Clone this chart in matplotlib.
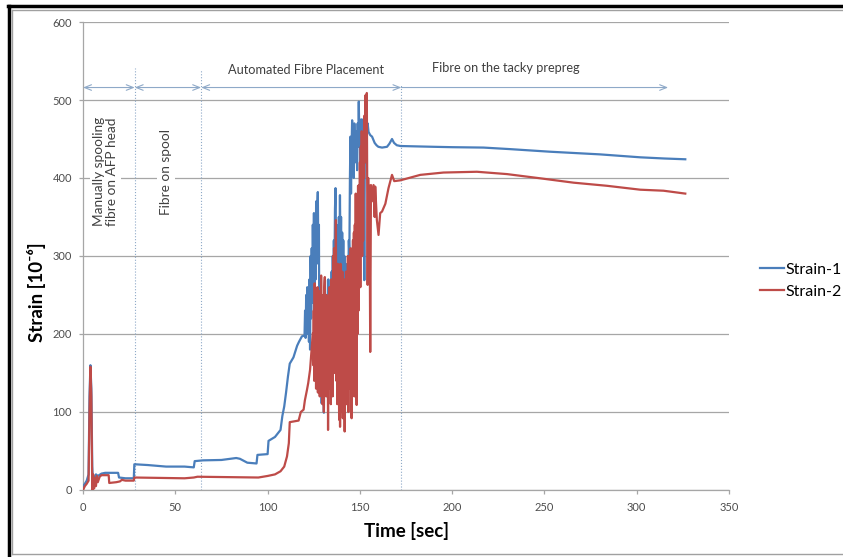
import matplotlib
matplotlib.use("Agg")
import matplotlib.pyplot as plt
from matplotlib.lines import Line2D

plt.rcParams['font.family'] = ['Lato', 'DejaVu Sans']

# Strain-1 (blue)
time1 = [0, 1, 2, 3, 3.5, 4, 4.5, 5, 5.5, 6, 7, 8, 10, 12, 15, 19, 19.5, 23, 27.5, 27.8,
         35, 45, 55, 60, 60.5, 65, 75, 83, 85, 89, 94, 94.5, 100, 100.5, 104, 107, 108,
         109, 110, 111, 112, 114, 116, 117, 118.6,
         120, 120.3, 120.6, 120.9, 121.2, 121.5, 121.8, 122.1, 122.4, 122.7, 123, 123.3,
         123.6, 123.9, 124.2, 124.5, 124.8, 125.1, 125.4, 125.7, 126, 126.3, 126.6, 126.9,
         127.2, 127.5, 127.8, 128.1, 128.4, 128.7, 129, 129.3, 129.6, 129.9, 130.2, 130.5,
         130.8, 131.1, 131.4, 131.7, 132, 132.3, 132.6, 132.9, 133.2, 133.5, 133.8, 134.1,
         134.4, 134.7, 135, 135.3, 135.6, 135.9, 136.2, 136.5, 136.8, 137.1, 137.4, 137.7,
         138, 138.3, 138.6, 138.9, 139.2, 139.5, 139.8, 140.1, 140.4, 140.7, 141, 141.3,
         141.6, 141.9, 142.2, 142.5, 142.8, 143.1, 143.4, 143.7, 144, 144.3, 144.6, 144.9,
         145.2, 145.5, 145.8, 146.1, 146.4, 146.7, 147, 147.3, 147.6, 147.9, 148.2, 148.5,
         148.8, 149.1, 149.4, 149.7, 150, 150.3, 150.6, 150.9, 151.2, 151.5, 151.8, 152.1,
         152.4, 152.7, 153, 153.3, 153.6, 153.9, 154.2,
         154.7, 155.6, 156.6, 158, 159, 160, 162, 164.7, 166, 167.4, 168.5, 170, 172, 180,
         190, 200, 217, 231.5, 253, 280, 302, 315, 326.3]
strain1 = [5, 8, 12, 20, 120, 160, 130, 30, 5, 15, 20, 18, 21, 22, 22, 22, 16, 15, 15, 33,
           32, 30, 30, 29, 37, 38, 38.5, 41, 40, 35, 34, 45, 46, 63, 68, 77, 95,
           107, 125, 145, 162, 170, 185, 190, 197,
           198, 230, 195, 250, 200, 260, 210, 240, 190, 270, 180, 300,
           220, 310, 240, 340, 260, 355, 230, 340, 270, 370, 290, 360,
           382, 300, 340, 137, 250, 160, 220, 111, 200, 150, 230, 99,
           240, 269, 200, 250, 160, 230, 140, 270, 190, 240, 180, 260,
           210, 280, 220, 300, 250, 320, 260, 360, 387, 300, 340, 260,
           330, 270, 350, 290, 378, 300, 350, 280, 330, 270, 320, 260,
           300, 255, 290, 260, 280, 254, 290, 260, 320, 300, 400, 453,
           380, 440, 474, 410, 460, 400, 470, 430, 460, 420, 450, 410,
           470, 440, 498, 450, 470, 420, 475, 410, 475, 380, 440, 400,
           269, 450, 487, 420, 495, 460, 470,
           459, 455, 453, 445, 442, 440, 439, 440, 444, 450, 445, 442, 441, 440.5,
           440, 439.5, 439, 437, 433.7, 430.3, 426.5, 425, 424]

# Strain-2 (red)
time2 = [0, 1, 2, 3, 3.5, 4, 4.5, 5, 5.5, 6, 6.5, 7, 7.5, 8, 9, 10, 12, 13.9, 14.2, 18,
         20, 21, 23, 27.5, 27.8, 40, 55, 60, 62, 80, 95, 100, 104, 107, 109, 110.5, 111.5,
         112, 116.8, 118, 119.5, 120.2, 121.3, 122, 123, 123.8,
         124.5, 124.75, 125, 125.25, 125.5, 125.75, 126, 126.25, 126.5, 126.75, 127, 127.25,
         127.5, 127.75, 128, 128.25, 128.5, 128.75, 129, 129.25, 129.5, 129.75, 130, 130.25,
         130.5, 130.75, 131, 131.25, 131.5, 131.75, 132, 132.25, 132.5, 132.75, 133, 133.25,
         133.5, 133.75, 134, 134.25, 134.5, 134.75, 135, 135.25, 135.5, 135.75, 136, 136.25,
         136.5, 136.75, 137, 137.25, 137.5, 137.75, 138, 138.25, 138.5, 138.75, 139, 139.25,
         139.5, 139.75, 140, 140.25, 140.5, 140.75, 141, 141.25, 141.5, 141.75, 142, 142.25,
         142.5, 142.75, 143, 143.25, 143.5, 143.75, 144, 144.25, 144.5, 144.75, 145, 145.25,
         145.5, 145.75, 146, 146.25, 146.5, 146.75, 147, 147.25, 147.5, 147.75, 148, 148.25,
         148.5, 148.75, 149, 149.25, 149.5, 149.75, 150, 150.25, 150.5, 150.75, 151, 151.25,
         151.5, 151.75, 152, 152.25, 152.5, 152.75, 153, 153.25, 153.5, 153.75,
         154.2, 154.5, 154.8, 155.2, 155.6, 156, 156.5, 157.4, 158, 158.3, 159.2,
         160.1, 161, 162, 163.8, 165.5, 167.4, 168.6, 171.9, 175, 182.7, 195.3, 213.4,
         229.7, 247.7, 265.8, 283.9, 301.9, 314.5, 326.3]
strain2 = [0, 5, 8, 12, 100, 158, 120, 0, 20, 2, 15, 5, 18, 10, 17, 19, 19, 19, 9, 10,
           11, 13, 12, 12, 16, 15.5, 15, 16, 17, 16.5, 16, 18, 20, 24, 30, 43, 60,
           87, 89, 100, 103, 115, 128, 137, 154, 180,
           201, 160, 230, 140, 265, 170, 240, 130, 250, 150, 260, 125,
           230, 170, 255, 120, 240, 140, 275, 130, 220, 110, 250, 150,
           100, 260, 273, 160, 240, 120, 250, 140, 230, 77, 210, 130,
           260, 150, 240, 110, 270, 140, 230, 120, 300, 180, 310, 150,
           280, 200, 346, 140, 270, 110, 290, 130, 250, 90, 270, 81,
           290, 120, 260, 100, 280, 92, 240, 130, 270, 75, 250, 140,
           280, 110, 260, 130, 300, 100, 290, 160, 300, 130, 310, 150,
           92, 280, 140, 320, 160, 330, 120, 340, 180, 380, 150, 109,
           350, 200, 390, 230, 391, 280, 420, 260, 440, 330, 460, 300,
           450, 320, 449, 400, 480, 420, 506, 460, 490, 509,
           263, 400, 320, 390, 177, 391, 370, 391, 350, 389, 346,
           327, 355, 357, 367, 387, 404, 396, 397, 399, 404, 407, 408,
           405, 399.6, 394, 390, 385, 383.7, 380]

# phase boundaries and labels
phase_x = [28, 64, 172.5]
phase_top = [541, 538, 519]
arrow_spans = [(0, 28), (28, 64), (64, 172.5), (172.5, 317)]
arrow_y = 516

fig = plt.figure(figsize=(8.43, 5.57), dpi=100)
ax = fig.add_axes([0.0985, 0.1203, 0.7663, 0.8402])

gray = '#a6a6a6'
ax.set_xlim(0, 350)
ax.set_ylim(0, 600)
ax.set_xticks(range(0, 351, 50))
ax.set_yticks(range(0, 601, 100))
ax.yaxis.grid(True, color=gray, lw=0.9)
ax.set_axisbelow(True)
for s in ['top', 'right']:
    ax.spines[s].set_visible(False)
for s in ['left', 'bottom']:
    ax.spines[s].set_color(gray)
    ax.spines[s].set_linewidth(0.9)
ax.tick_params(colors=gray, labelcolor='#4d4d4d', labelsize=8, length=3, width=0.9)
ax.tick_params(axis='x', pad=6)
ax.tick_params(axis='y', pad=5)

ax.plot(time1, strain1, color='#4a7ebb', lw=1.6, label='Strain-1', zorder=3)
ax.plot(time2, strain2, color='#be4b48', lw=1.6, label='Strain-2', zorder=4)

lc = '#8ea9c8'
for x, top in zip(phase_x, phase_top):
    ax.plot([x, x], [0, top], color=lc, lw=0.8, ls=':', zorder=2)
for i, (a, b) in enumerate(arrow_spans):
    style = '->' if i == len(arrow_spans) - 1 else '<->'
    ax.annotate('', xy=(b, arrow_y), xytext=(a, arrow_y),
                arrowprops=dict(arrowstyle=style + ',head_length=0.5,head_width=0.2',
                                color=lc, lw=0.8, shrinkA=0, shrinkB=0))

txt = '#404040'
ax.text(121, 538, 'Automated Fibre Placement', ha='center', va='center', fontsize=9.2, color=txt)
ax.text(229, 541, 'Fibre on the tacky prepreg', ha='center', va='center', fontsize=9.2, color=txt)
ax.text(12.2, 408, 'Manually spooling\nfibre on AFP head', rotation=90, ha='center',
        va='center', fontsize=9.8, color=txt, linespacing=1.1,
        bbox=dict(facecolor='white', edgecolor='none', pad=2))
ax.text(45, 408, 'Fibre on spool', rotation=90, ha='center', va='center', fontsize=9.8,
        color=txt, bbox=dict(facecolor='white', edgecolor='none', pad=2))

ax.set_xlabel('Time [sec]', fontsize=13.5, fontweight='bold', labelpad=6)
ax.set_ylabel('Strain [10⁻⁶]', fontsize=13.5, fontweight='bold', labelpad=2)
ax.yaxis.set_label_coords(-0.058, 0.423)

ax.legend(loc='center left', bbox_to_anchor=(1.025, 0.447), frameon=False, fontsize=11.5,
          handlelength=1.5, handletextpad=0.1, labelspacing=0.5)

# frame around the picture
fig.add_artist(Line2D([8 / 843, 1], [1 - 6 / 557] * 2, color='black', lw=2.5))
fig.add_artist(Line2D([9 / 843] * 2, [0, 1 - 6 / 557], color='black', lw=2.5))
fig.add_artist(Line2D([12 / 843, 1], [1 - 10 / 557] * 2, color='#a0a0a0', lw=1))
fig.add_artist(Line2D([12 / 843, 1], [1 - 554 / 557] * 2, color='#a0a0a0', lw=1))
fig.add_artist(Line2D([12 / 843] * 2, [1 - 554 / 557, 1 - 10 / 557], color='#a0a0a0', lw=1))

fig.savefig('out.png', dpi=100)
